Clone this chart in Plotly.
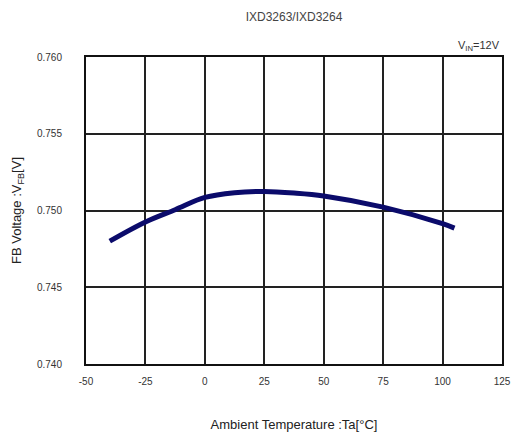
import plotly.graph_objects as go

# FB voltage vs ambient temperature
temperature = [-40, -25, -12.5, 0, 12.5, 25, 37.5, 50, 75, 100, 105]
fb_voltage = [0.74800, 0.74925, 0.75005, 0.75085, 0.75116, 0.75124, 0.75114,
              0.75095, 0.75022, 0.74914, 0.74885]

x_ticks = [-50, -25, 0, 25, 50, 75, 100, 125]
y_ticks = [0.740, 0.745, 0.750, 0.755, 0.760]

font_family = "Liberation Sans, Arial, sans-serif"

fig = go.Figure()
fig.add_trace(go.Scatter(
    x=temperature, y=fb_voltage, mode="lines",
    line=dict(color="#0b0b6b", width=5, shape="spline", smoothing=1.0),
    showlegend=False, hoverinfo="skip",
))

fig.update_layout(
    width=518, height=435,
    margin=dict(l=86, r=16, t=57, b=71, autoexpand=False),
    paper_bgcolor="white", plot_bgcolor="white",
    font=dict(family=font_family, color="#222222"),
    title=dict(text="IXD3263/IXD3264", x=0.5, xref="paper", xanchor="center",
               y=1 - 17 / 435, yanchor="middle",
               font=dict(size=12, color="#444444")),
    annotations=[dict(
        text="V<sub>IN</sub>=12V", xref="paper", yref="paper",
        x=1.0, y=1.0, xanchor="right", yanchor="bottom", yshift=2,
        showarrow=False, font=dict(size=11, color="#333333"),
    )],
)

fig.update_xaxes(
    range=[-50, 125], tickvals=x_ticks, ticktext=[str(v) for v in x_ticks],
    showgrid=True, gridcolor="#222222", gridwidth=1.5,
    showline=True, linecolor="#111111", linewidth=2, mirror=True,
    zeroline=False, ticks="", tickfont=dict(size=10, color="#333333"),
    ticklabelstandoff=7, automargin=False,
    title=dict(text="Ambient Temperature :Ta[°C]", font=dict(size=13, color="#222222"),
               standoff=34),
)
fig.update_yaxes(
    range=[0.740, 0.760], tickvals=y_ticks, ticktext=[f"{v:.3f}" for v in y_ticks],
    showgrid=True, gridcolor="#222222", gridwidth=1.5,
    showline=True, linecolor="#111111", linewidth=2, mirror=True,
    zeroline=False, ticks="", tickfont=dict(size=10, color="#333333"),
    ticklabelstandoff=20, automargin=False,
    title=dict(text="FB Voltage :V<sub>FB</sub>[V]", font=dict(size=13, color="#222222"),
               standoff=12),
)

fig.write_html("out.html")
